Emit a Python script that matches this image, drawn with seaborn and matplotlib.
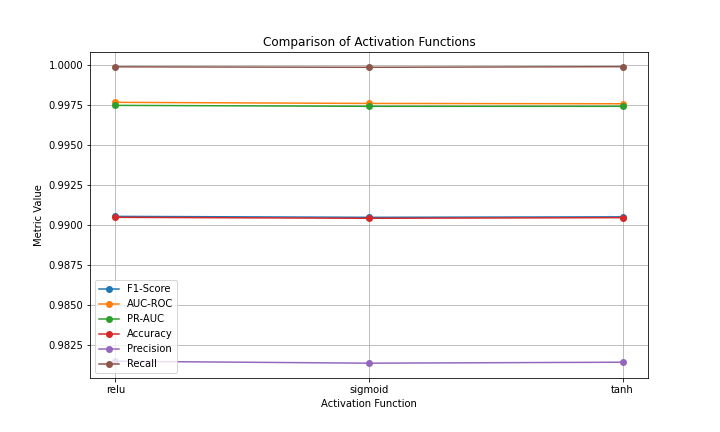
import pandas as pd
import matplotlib
matplotlib.use("Agg")
import matplotlib.pyplot as plt
import seaborn as sns

activations = ["relu", "sigmoid", "tanh"]
f1_score = [0.99056, 0.99050, 0.99053]
auc_roc = [0.99769, 0.99762, 0.99760]
pr_auc = [0.99750, 0.99744, 0.99744]
accuracy = [0.99050, 0.99044, 0.99048]
precision = [0.98150, 0.98138, 0.98144]
recall = [0.99991, 0.99988, 0.99992]

series = {
    "F1-Score": f1_score,
    "AUC-ROC": auc_roc,
    "PR-AUC": pr_auc,
    "Accuracy": accuracy,
    "Precision": precision,
    "Recall": recall,
}

fig, ax = plt.subplots(figsize=(10, 6), dpi=72)
colors = sns.color_palette("tab10")
for i, (name, vals) in enumerate(series.items()):
    df = pd.DataFrame({"act": activations, "val": vals})
    sns.lineplot(data=df, x="act", y="val", marker="o", markeredgewidth=0,
                 markersize=7, color=colors[i], label=name, ax=ax, sort=False)

ax.set_title("Comparison of Activation Functions")
ax.set_xlabel("Activation Function")
ax.set_ylabel("Metric Value")
ax.grid(True)
ax.legend(loc="lower left")
fig.subplots_adjust(left=0.125, right=0.9, top=0.88, bottom=0.125)
plt.savefig("out.png")
